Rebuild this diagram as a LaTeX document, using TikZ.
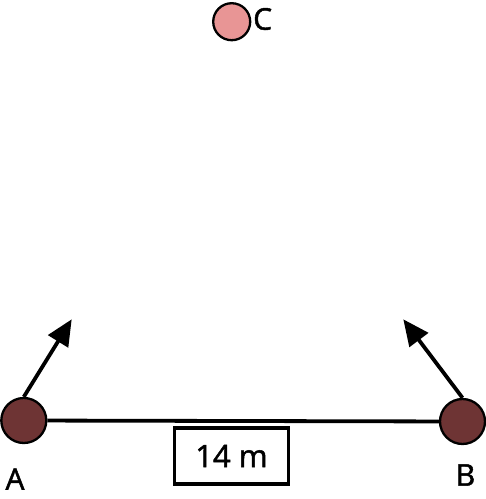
\documentclass[tikz,border=0pt]{standalone}
\usepackage{fontspec}
\setmainfont{Open Sans}[FakeBold=1.6]
\usetikzlibrary{arrows.meta}
\definecolor{maroon}{RGB}{110,52,52}
\definecolor{rosy}{RGB}{232,149,149}
\tikzset{
  ball/.style={circle, draw=black, line width=2.3pt, fill=maroon, minimum size=45pt, inner sep=0pt},
  lbl/.style={font=\fontsize{30}{30}\selectfont, inner sep=0pt},
  push/.style={line width=3.8pt, -{Triangle[length=26pt, width=23pt]}}
}
\begin{document}
\begin{tikzpicture}[x=1pt, y=-1pt]
\useasboundingbox (0,0) rectangle (486,499);
\node[ball] (A) at (23.8, 420.5) {};
\node[ball] (B) at (462.5, 421.5) {};
\node[ball, fill=rosy, minimum size=37pt] (C) at (231.7, 21.7) {};
\node[lbl, anchor=west] (Clbl) at (253, 19) {C};
\node[lbl] (Albl) at (15, 479) {A};
\node[lbl] (Blbl) at (465.5, 475) {B};
\draw[line width=3.8pt] (A) -- (B);
\coordinate (a) at (71.7, 319.3);
\coordinate (b) at (403.3, 319.3);
\draw[push] (A.north) -- (a);
\draw[push] (B.north) -- (b);
\node[draw, line width=3.2pt, minimum width=114pt, minimum height=56pt, font=\fontsize{31}{31}\selectfont] (len) at (231.5, 456) {14 m};

\end{tikzpicture}
\end{document}
